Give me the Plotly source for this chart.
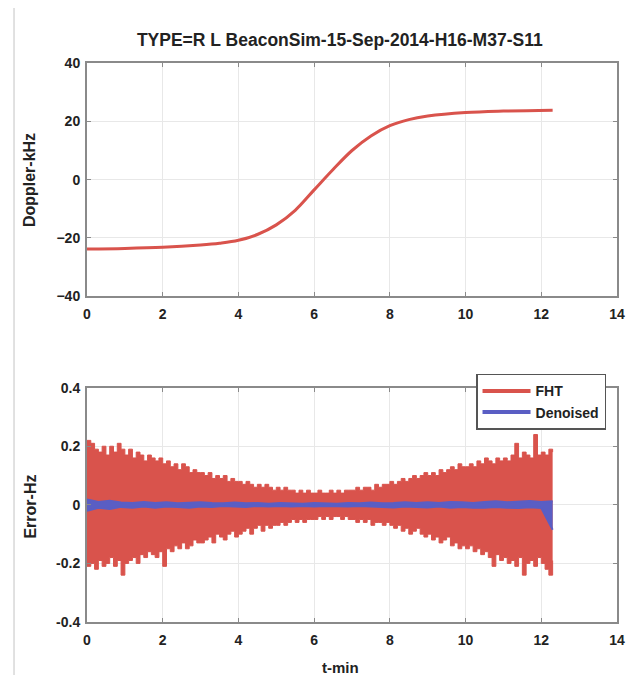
import plotly.graph_objects as go
from plotly.subplots import make_subplots

# top panel: doppler curve (kHz)
dop_t = [0, 1, 2, 3, 3.5, 4, 4.5, 5, 5.5, 6, 6.5, 7, 7.5, 8, 8.5, 9, 10, 11, 12.3]
dop_khz = [-23.8, -23.6, -23.2, -22.4, -21.8, -20.8, -18.8, -15.5, -10.5, -3.5,
           3.5, 10.0, 15.0, 18.5, 20.6, 21.8, 23.0, 23.5, 23.8]

# bottom panel: FHT error envelope (Hz), sampled every 0.1 min
fht_t = [round(0.1 * i, 1) for i in range(124)]
fht_hi = [
    0.22, 0.21, 0.19, 0.18, 0.20, 0.17, 0.20, 0.18, 0.21, 0.19,
    0.17, 0.19, 0.16, 0.18, 0.17, 0.15, 0.17, 0.16, 0.15, 0.16,
    0.14, 0.15, 0.13, 0.14, 0.12, 0.14, 0.13, 0.11, 0.12, 0.11,
    0.11, 0.10, 0.11, 0.09, 0.10, 0.09, 0.10, 0.08, 0.09, 0.08,
    0.08, 0.07, 0.08, 0.07, 0.06, 0.07, 0.06, 0.07, 0.06, 0.05,
    0.06, 0.05, 0.06, 0.05, 0.05, 0.04, 0.05, 0.04, 0.05, 0.04,
    0.04, 0.05, 0.04, 0.04, 0.05, 0.04, 0.05, 0.04, 0.05, 0.05,
    0.05, 0.06, 0.05, 0.06, 0.06, 0.05, 0.07, 0.06, 0.07, 0.07,
    0.08, 0.07, 0.08, 0.09, 0.08, 0.09, 0.10, 0.09, 0.10, 0.11,
    0.10, 0.11, 0.10, 0.12, 0.11, 0.12, 0.13, 0.12, 0.14, 0.13,
    0.13, 0.14, 0.13, 0.15, 0.14, 0.16, 0.15, 0.14, 0.16, 0.15,
    0.16, 0.15, 0.17, 0.21, 0.16, 0.18, 0.17, 0.16, 0.24, 0.17,
    0.18, 0.17, 0.19, 0.18,
]
fht_lo = [
    -0.21, -0.20, -0.22, -0.19, -0.21, -0.20, -0.18, -0.21, -0.19, -0.24,
    -0.20, -0.19, -0.18, -0.20, -0.17, -0.18, -0.16, -0.17, -0.18, -0.16,
    -0.21, -0.15, -0.16, -0.14, -0.15, -0.13, -0.15, -0.14, -0.12, -0.13,
    -0.13, -0.12, -0.11, -0.13, -0.10, -0.11, -0.12, -0.10, -0.09, -0.11,
    -0.10, -0.09, -0.08, -0.10, -0.08, -0.07, -0.09, -0.07, -0.08, -0.07,
    -0.07, -0.06, -0.07, -0.06, -0.05, -0.06, -0.05, -0.06, -0.05, -0.05,
    -0.05, -0.04, -0.05, -0.04, -0.05, -0.04, -0.04, -0.05, -0.04, -0.05,
    -0.05, -0.06, -0.05, -0.06, -0.05, -0.07, -0.06, -0.06, -0.07, -0.06,
    -0.07, -0.08, -0.07, -0.09, -0.08, -0.10, -0.09, -0.08, -0.10, -0.11,
    -0.10, -0.12, -0.11, -0.13, -0.12, -0.11, -0.14, -0.13, -0.15, -0.14,
    -0.15, -0.14, -0.16, -0.15, -0.17, -0.16, -0.18, -0.21, -0.17, -0.19,
    -0.18, -0.20, -0.19, -0.21, -0.18, -0.24, -0.20, -0.19, -0.21, -0.18,
    -0.20, -0.22, -0.24, -0.19,
]

# denoised error envelope, every 0.3 min
den_t = [round(0.3 * i, 1) for i in range(42)]
den_hi = [
    0.018, 0.010, 0.014, 0.008, 0.006, 0.010, 0.006, 0.009, 0.005, 0.006,
    0.009, 0.006, 0.005, 0.008, 0.005, 0.006, 0.004, 0.006, 0.005, 0.004,
    0.006, 0.005, 0.004, 0.006, 0.005, 0.008, 0.005, 0.006, 0.009, 0.006,
    0.009, 0.006, 0.010, 0.009, 0.006, 0.010, 0.012, 0.009, 0.010, 0.013,
    0.010, 0.012,
]
den_lo = [
    -0.020, -0.010, -0.014, -0.007, -0.010, -0.006, -0.010, -0.006, -0.007, -0.010,
    -0.006, -0.007, -0.004, -0.006, -0.007, -0.004, -0.006, -0.004, -0.006, -0.004,
    -0.006, -0.004, -0.006, -0.006, -0.004, -0.006, -0.007, -0.009, -0.006, -0.007,
    -0.009, -0.006, -0.010, -0.007, -0.010, -0.010, -0.007, -0.010, -0.011, -0.008,
    -0.011, -0.085,
]

RED = "#d9534c"
BLUE = "#5a5ec4"
AXC = "#8a8a8a"
TXT = "#222222"
FONT = "Liberation Sans, Arial, sans-serif"

fig = make_subplots(rows=2, cols=1, vertical_spacing=0.1634)
fig.update_yaxes(domain=[0.5826, 1.0], row=1, col=1)
fig.update_yaxes(domain=[0.0, 0.4192], row=2, col=1)

fig.add_trace(
    go.Scatter(x=dop_t, y=dop_khz, mode="lines", line=dict(color=RED, width=3, shape="spline"),
               showlegend=False),
    row=1, col=1,
)

fig.add_trace(
    go.Scatter(x=fht_t, y=fht_lo, mode="lines", line=dict(color=RED, width=1, shape="hv"),
               showlegend=False, hoverinfo="skip"),
    row=2, col=1,
)
fig.add_trace(
    go.Scatter(x=fht_t, y=fht_hi, mode="lines", line=dict(color=RED, width=1, shape="hv"),
               fill="tonexty", fillcolor=RED, showlegend=False, hoverinfo="skip"),
    row=2, col=1,
)
fig.add_trace(
    go.Scatter(x=den_t, y=den_lo, mode="lines", line=dict(color=BLUE, width=2),
               showlegend=False, hoverinfo="skip"),
    row=2, col=1,
)
fig.add_trace(
    go.Scatter(x=den_t, y=den_hi, mode="lines", line=dict(color=BLUE, width=2),
               fill="tonexty", fillcolor=BLUE, showlegend=False, hoverinfo="skip"),
    row=2, col=1,
)
# legend-only entries
fig.add_trace(go.Scatter(x=[None], y=[None], mode="lines", name="FHT",
                         line=dict(color=RED, width=4)), row=2, col=1)
fig.add_trace(go.Scatter(x=[None], y=[None], mode="lines", name="Denoised",
                         line=dict(color=BLUE, width=4)), row=2, col=1)

axis_style = dict(
    showline=True, linecolor=AXC, linewidth=2, mirror="ticks",
    ticks="inside", ticklen=4, tickcolor=AXC,
    showgrid=True, gridcolor="#e8e8e8", gridwidth=1, zeroline=False,
    tickfont=dict(family=FONT, size=14, color=TXT, weight="bold"),
)
fig.update_xaxes(range=[0, 14], dtick=2, ticklabelstandoff=4, **axis_style)
fig.update_yaxes(ticklabelstandoff=2, **axis_style)
fig.update_yaxes(range=[-40, 40], dtick=20, row=1, col=1)
fig.update_yaxes(range=[-0.4, 0.4], tickvals=[-0.4, -0.2, 0, 0.2, 0.4],
                 ticktext=["-0.4", "-0.2", "0", "0.2", "0.4"], row=2, col=1)

fig.update_layout(
    width=626,
    height=667,
    margin=dict(l=79, r=9, t=55, b=53),
    plot_bgcolor="white",
    paper_bgcolor="white",
    font=dict(family=FONT, color=TXT),
    title=dict(text="<b>TYPE=R L BeaconSim-15-Sep-2014-H16-M37-S11</b>", x=0.530, y=0.952,
               xanchor="center", yanchor="middle", font=dict(family=FONT, size=17.5, color=TXT)),
    legend=dict(x=0.734, y=0.444, xanchor="left", yanchor="top", bgcolor="white",
                bordercolor="#555555", borderwidth=1.5, tracegroupgap=0, traceorder="normal",
                itemwidth=48, font=dict(family=FONT, size=14, color=TXT, weight="bold")),
    annotations=[
        dict(text="<b>Doppler-kHz</b>", x=-0.107, y=0.791, xref="paper", yref="paper",
             xanchor="center", yanchor="middle", textangle=-90, showarrow=False,
             font=dict(family=FONT, size=16, color=TXT)),
        dict(text="<b>Error-Hz</b>", x=-0.107, y=0.207, xref="paper", yref="paper",
             xanchor="center", yanchor="middle", textangle=-90, showarrow=False,
             font=dict(family=FONT, size=16, color=TXT)),
        dict(text="<b>t-min</b>", x=0.479, y=-0.081, xref="paper", yref="paper",
             xanchor="center", yanchor="middle", showarrow=False,
             font=dict(family=FONT, size=15, color=TXT)),
    ],
    shapes=[
        dict(type="rect", xref="paper", yref="paper", x0=-0.1377, y0=-0.3, x1=1.2, y1=1.0998,
             line=dict(color="#c4c4c4", width=1), layer="below"),
    ],
)

fig.write_html("out.html")
